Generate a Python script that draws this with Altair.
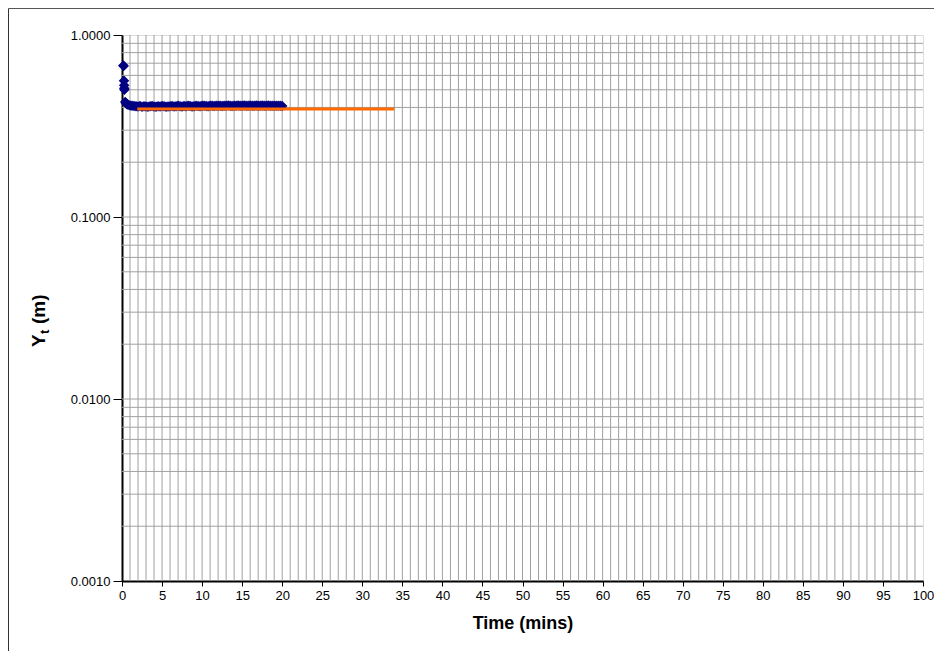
import altair as alt
import pandas as pd

# ---- data ----
early_t = [0.17, 0.20, 0.25, 0.27, 0.28, 0.30, 0.40, 0.50, 0.60, 0.75, 1.00, 1.25, 1.50]
early_y = [0.680, 0.675, 0.560, 0.530, 0.510, 0.500, 0.428, 0.422, 0.418, 0.414, 0.410, 0.408, 0.407]

band_t = [1.75, 2.00, 2.25, 2.50, 2.75, 3.00, 3.25, 3.50, 3.75, 4.00,
          4.25, 4.50, 4.75, 5.00, 5.25, 5.50, 5.75, 6.00, 6.25, 6.50,
          6.75, 7.00, 7.25, 7.50, 7.75, 8.00, 8.25, 8.50, 8.75, 9.00,
          9.25, 9.50, 9.75, 10.00, 10.25, 10.50, 10.75, 11.00, 11.25, 11.50,
          11.75, 12.00, 12.25, 12.50, 12.75, 13.00, 13.25, 13.50, 13.75, 14.00,
          14.25, 14.50, 14.75, 15.00, 15.25, 15.50, 15.75, 16.00, 16.25, 16.50,
          16.75, 17.00, 17.25, 17.50, 17.75, 18.00, 18.25, 18.50, 18.75, 19.00,
          19.25, 19.50, 19.75, 20.00]
band_y = [0.406, 0.405, 0.407, 0.404, 0.406, 0.405, 0.403, 0.406, 0.407, 0.405,
          0.404, 0.406, 0.405, 0.407, 0.406, 0.404, 0.405, 0.406, 0.407, 0.405,
          0.406, 0.408, 0.406, 0.405, 0.407, 0.406, 0.408, 0.407, 0.405, 0.406,
          0.408, 0.407, 0.406, 0.408, 0.409, 0.407, 0.406, 0.408, 0.409, 0.407,
          0.408, 0.409, 0.408, 0.407, 0.409, 0.408, 0.410, 0.408, 0.407, 0.409,
          0.408, 0.410, 0.409, 0.408, 0.410, 0.409, 0.408, 0.410, 0.409, 0.408,
          0.410, 0.409, 0.408, 0.410, 0.409, 0.408, 0.410, 0.409, 0.408, 0.409,
          0.408, 0.409, 0.408, 0.407]

fit_t = [1.9, 34.0]
fit_y = [0.392, 0.392]

x_ticks = [0, 5, 10, 15, 20, 25, 30, 35, 40, 45, 50, 55, 60, 65, 70, 75, 80, 85, 90, 95, 100]
y_ticks = [0.001, 0.01, 0.1, 1.0]

x_grid = [1, 2, 3, 4, 5, 6, 7, 8, 9, 10, 11, 12, 13, 14, 15, 16, 17, 18, 19, 20,
          21, 22, 23, 24, 25, 26, 27, 28, 29, 30, 31, 32, 33, 34, 35, 36, 37, 38, 39, 40,
          41, 42, 43, 44, 45, 46, 47, 48, 49, 50, 51, 52, 53, 54, 55, 56, 57, 58, 59, 60,
          61, 62, 63, 64, 65, 66, 67, 68, 69, 70, 71, 72, 73, 74, 75, 76, 77, 78, 79, 80,
          81, 82, 83, 84, 85, 86, 87, 88, 89, 90, 91, 92, 93, 94, 95, 96, 97, 98, 99]
y_grid = [0.002, 0.003, 0.004, 0.005, 0.006, 0.007, 0.008, 0.009,
          0.01, 0.02, 0.03, 0.04, 0.05, 0.06, 0.07, 0.08, 0.09,
          0.1, 0.2, 0.3, 0.4, 0.5, 0.6, 0.7, 0.8, 0.9]

FONT = "Liberation Sans"

xscale = alt.Scale(domain=[0, 100], nice=False, zero=False)
yscale = alt.Scale(type="log", domain=[0.001, 1], nice=False)

xaxis = alt.Axis(values=x_ticks, grid=False, tickSize=5, tickColor="black",
                 domainColor="black", domainWidth=2, labelFont=FONT, labelFontSize=13,
                 labelColor="black", labelPadding=3, labelFlush=False,
                 title="Time (mins)", titleFont=FONT, titleFontSize=18,
                 titleFontWeight="bold", titleColor="black", titlePadding=12)
yaxis = alt.Axis(values=y_ticks, grid=False, format=".4f", tickSize=9, tickColor="black",
                 domainColor="black", domainWidth=2, labelFont=FONT, labelFontSize=13,
                 labelColor="black", labelPadding=3, labelFlush=False, title=None)

def X():
    return alt.X("t:Q", scale=xscale, axis=xaxis)

def Y():
    return alt.Y("v:Q", scale=yscale, axis=yaxis)

df_early = pd.DataFrame({"t": early_t, "v": early_y})
df_band = pd.DataFrame({"t": band_t, "v": band_y})
df_pts = pd.concat([df_early, df_band], ignore_index=True)
df_fit = pd.DataFrame({"t": fit_t, "v": fit_y})
df_xg = pd.DataFrame({"t": x_grid})
df_yg = pd.DataFrame({"v": y_grid})

GRID = "#a0a0a0"
vgrid = alt.Chart(df_xg).mark_rule(color=GRID, strokeWidth=1).encode(x=X())
hgrid = alt.Chart(df_yg).mark_rule(color=GRID, strokeWidth=1).encode(y=Y())

points = alt.Chart(df_pts).mark_point(shape="diamond", filled=True, size=110,
                                      color="#000080", opacity=1).encode(x=X(), y=Y())
fit = alt.Chart(df_fit).mark_line(color="#FF6A00", strokeWidth=3).encode(x=X(), y=Y())

one = pd.DataFrame({"a": [0]})
ttl_Y = alt.Chart(one).mark_text(text="Y", angle=270, align="left", baseline="alphabetic",
                                 font=FONT, fontSize=19, fontWeight="bold", color="black"
                                 ).encode(x=alt.value(-77), y=alt.value(312))
ttl_t = alt.Chart(one).mark_text(text="t", angle=270, align="left", baseline="alphabetic",
                                 font=FONT, fontSize=13, fontWeight="bold", color="black"
                                 ).encode(x=alt.value(-73), y=alt.value(299))
ttl_m = alt.Chart(one).mark_text(text="(m)", angle=270, align="left", baseline="alphabetic",
                                 font=FONT, fontSize=19, fontWeight="bold", color="black"
                                 ).encode(x=alt.value(-77), y=alt.value(289))

frame_l = alt.Chart(one).mark_rule(color="#333333", strokeWidth=1).encode(
    x=alt.value(-113.5), y=alt.value(-26.5), y2=alt.value(700))
frame_t = alt.Chart(one).mark_rule(color="#555555", strokeWidth=1).encode(
    x=alt.value(-113.5), x2=alt.value(900), y=alt.value(-26.5))

chart = alt.layer(vgrid, hgrid, points, fit, ttl_Y, ttl_t, ttl_m, frame_l, frame_t).properties(
    width=801, height=546,
    autosize=alt.AutoSizeParams(type="none"),
    padding={"left": 114, "top": 27, "right": 11, "bottom": 70},
).configure_view(stroke="black", strokeWidth=1.5).configure(background="white")

chart.save("out.html", embed_options={"renderer": "svg", "actions": False})
